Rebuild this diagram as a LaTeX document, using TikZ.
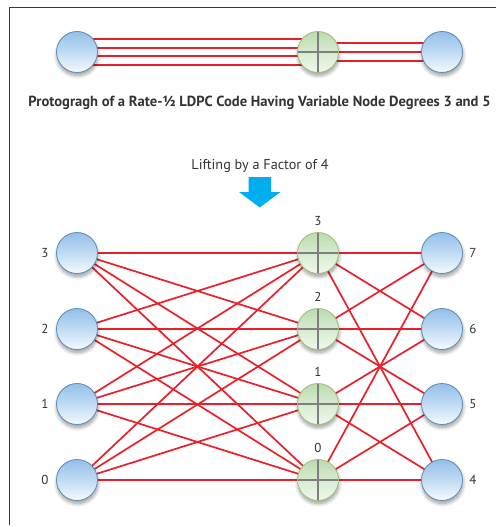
\documentclass[tikz,border=0pt]{standalone}
\usepackage{fontspec}
\setmainfont{PT Sans}
\usetikzlibrary{shadows.blur}

\definecolor{edgered}{HTML}{E8202A}
\definecolor{vartop}{HTML}{94BFE9}
\definecolor{varmid}{HTML}{C0DBF3}
\definecolor{varbot}{HTML}{F6FAFE}
\definecolor{varline}{HTML}{5A8DB5}
\definecolor{chktop}{HTML}{BCDAB0}
\definecolor{chkmid}{HTML}{D8EBD1}
\definecolor{chkbot}{HTML}{F0F8EC}
\definecolor{chkline}{HTML}{A3BE78}
\definecolor{crossgrey}{HTML}{7F7F7F}
\definecolor{arrowblue}{HTML}{00AEEF}
\definecolor{framegrey}{HTML}{3A3A3A}
\definecolor{textgrey}{HTML}{333333}

\tikzset{
  nodeshadow/.style={blur shadow={shadow xshift=0.5pt, shadow yshift=-3pt,
      shadow blur radius=3.5pt, shadow blur steps=10, shadow opacity=40}},
  varnode/.style={circle, minimum size=41pt, inner sep=0pt, draw=varline,
      line width=0.8pt, top color=vartop, bottom color=varbot, middle color=varmid,
      nodeshadow},
  chknode/.style={circle, minimum size=41pt, inner sep=0pt, draw=chkline,
      line width=0.8pt, top color=chktop, bottom color=chkbot, middle color=chkmid,
      nodeshadow,
      path picture={\draw[crossgrey, line width=2.6pt]
        (path picture bounding box.north) -- (path picture bounding box.south)
        (path picture bounding box.west) -- (path picture bounding box.east);}},
  link/.style={draw=edgered, line width=1.7pt},
  numlabel/.style={font=\fontsize{13}{15}\selectfont, text=textgrey, inner sep=0pt},
}

\begin{document}
\begin{tikzpicture}[x=1pt, y=-1pt]
\useasboundingbox (0,0) rectangle (496,527);

% open frame: top and left rules
\draw[framegrey, line width=1pt] (496,8) -- (9,8) -- (9,525);

% ---------------- protograph ----------------
% line ends on both sides of each node (hidden under the node discs)
\foreach \k/\dy in {a/-13, b/-4, c/4, d/13} {
  \coordinate (pv\k) at (77,52+\dy);
  \coordinate (pcl\k) at (318,52+\dy);
}
\foreach \k/\dy in {a/-9, b/0, c/9} {
  \coordinate (pcr\k) at (318,52+\dy);
  \coordinate (pr\k) at (442,52+\dy);
}
\foreach \k in {a,b,c,d}
  \draw[link] (pv\k) -- (pcl\k);
\foreach \k in {a,b,c}
  \draw[link] (pcr\k) -- (pr\k);

\node[varnode] (pv) at (77,52) {};
\node[chknode] (pc) at (318,52) {};
\node[varnode] (pr) at (442,52) {};

\node[font=\bfseries\fontsize{14.6}{17}\selectfont, text=textgrey] (caption) at (259.5,103)
  {Protogragh of a Rate-½ LDPC Code Having Variable Node Degrees 3 and 5};

% ---------------- lifting ----------------
\node[font=\fontsize{14.2}{16}\selectfont, text=textgrey] (lift) at (260,166)
  {Lifting by a Factor of 4};
\fill[arrowblue] (248.5,177) -- (271,177) -- (271,192) -- (280.5,192) -- (259.7,207.5)
  -- (239,192) -- (248.5,192) -- cycle;

% lifted graph: centres first, edges, then the node discs on top
\foreach \i/\y in {3/253, 2/329, 1/404, 0/480} {
  \coordinate (L\i) at (77,\y);
  \coordinate (C\i) at (318,\y);
}
\foreach \i/\y in {7/253, 6/329, 5/404, 4/480}
  \coordinate (R\i) at (442,\y);

% every left variable meets every check
\foreach \i in {0,...,3}
  \foreach \j in {0,...,3}
    \draw[link] (L\i) -- (C\j);
% right variables, degree three each
\foreach \c/\r in {3/7, 3/6, 3/4, 2/7, 2/6, 2/5, 1/6, 1/5, 1/4, 0/4, 0/5, 0/7}
  \draw[link] (C\c) -- (R\r);

\foreach \i in {0,...,3} {
  \node[varnode] (vL\i) at (L\i) {};
  \node[chknode] (vC\i) at (C\i) {};
  \node[numlabel] (lL\i) at ([xshift=-32pt]L\i) {\i};
  \node[numlabel] (lC\i) at ([yshift=32pt]C\i) {\i};
}
\foreach \i in {4,...,7} {
  \node[varnode] (vR\i) at (R\i) {};
  \node[numlabel] (lR\i) at ([xshift=31pt]R\i) {\i};
}
\end{tikzpicture}
\end{document}
